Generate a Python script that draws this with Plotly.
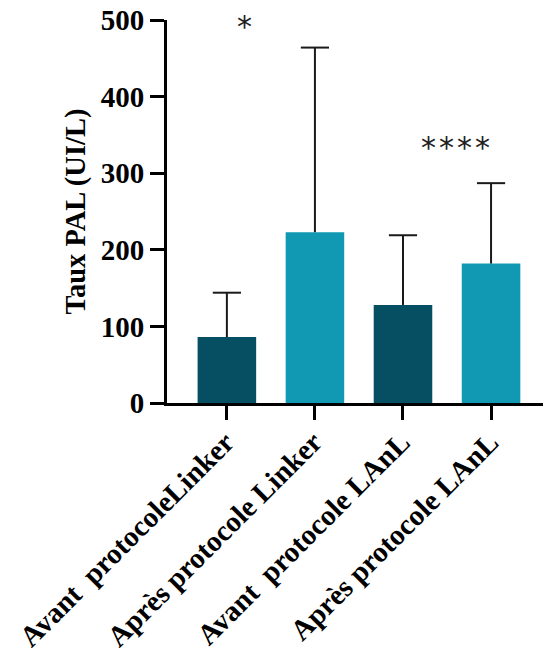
import plotly.graph_objects as go

# Groups and measured PAL levels (UI/L)
categories = [
    "Avant\u00a0 protocoleLinker",
    "Après protocole Linker",
    "Avant\u00a0 protocole LAnL",
    "Après protocole LAnL",
]
means = [86, 223, 128, 182]
sd_upper = [58, 241, 91, 105]
bar_colors = ["#064F62", "#1199B3", "#064F62", "#1199B3"]

# Significance marks: (x position in category units, y value, label)
sig_marks = [(0.2, 492, "*"), (2.6, 334, "*\u200a*\u200a*\u200a*")]

y_ticks = [0, 100, 200, 300, 400, 500]

cap_half = 0.16  # half-width of the error-bar caps, in category units

fig = go.Figure()
fig.add_trace(go.Bar(
    x=list(range(len(categories))),
    y=means,
    marker=dict(color=bar_colors, line=dict(width=0)),
    width=0.665,
))

# Upper-only error bars (stem from bar top plus a cap at mean + SD)
ex, ey = [], []
for i, (m, s) in enumerate(zip(means, sd_upper)):
    top = m + s
    ex += [i, i, None, i - cap_half, i + cap_half, None]
    ey += [m, top, None, top, top, None]
fig.add_trace(go.Scatter(
    x=ex, y=ey, mode="lines",
    line=dict(color="#1a1a1a", width=2),
    hoverinfo="skip",
))

for xi, yv, label in sig_marks:
    fig.add_annotation(
        x=xi, y=yv, text=label, showarrow=False,
        xref="x", yref="y",
        font=dict(family="DejaVu Sans", size=30, color="#222222"),
    )

# Slanted category labels, right-aligned under each tick
for i, c in enumerate(categories):
    fig.add_annotation(
        x=i, y=0, xref="x", yref="paper",
        text="<b>%s</b>" % c, showarrow=False, textangle=-45,
        xanchor="right", yanchor="top", xshift=15, yshift=-21,
        borderpad=0,
        font=dict(family="Liberation Serif", size=29, color="black"),
    )

fig.update_layout(
    width=544,
    height=657,
    margin=dict(l=167, r=1, t=20, b=254),
    plot_bgcolor="white",
    paper_bgcolor="white",
    showlegend=False,
    xaxis=dict(
        range=[-0.68, 3.59],
        tickmode="array",
        tickvals=list(range(len(categories))),
        showticklabels=False,
        showline=True, linecolor="black", linewidth=3,
        ticks="outside", ticklen=14, tickwidth=3, tickcolor="black",
        showgrid=False, zeroline=False, automargin=False,
    ),
    yaxis=dict(
        range=[0, 500],
        tickmode="array",
        tickvals=y_ticks,
        ticktext=["<b>%d</b>" % v for v in y_ticks],
        tickfont=dict(family="Liberation Serif", size=29, color="black"),
        showline=True, linecolor="black", linewidth=3,
        ticks="outside", ticklen=14, tickwidth=3, tickcolor="black",
        showgrid=False, zeroline=False, automargin=False,
        title=dict(text="<b>Taux PAL (UI/L)</b>",
                   font=dict(family="Liberation Serif", size=28.5, color="black"),
                   standoff=7),
    ),
)

fig.write_html("out.html")
